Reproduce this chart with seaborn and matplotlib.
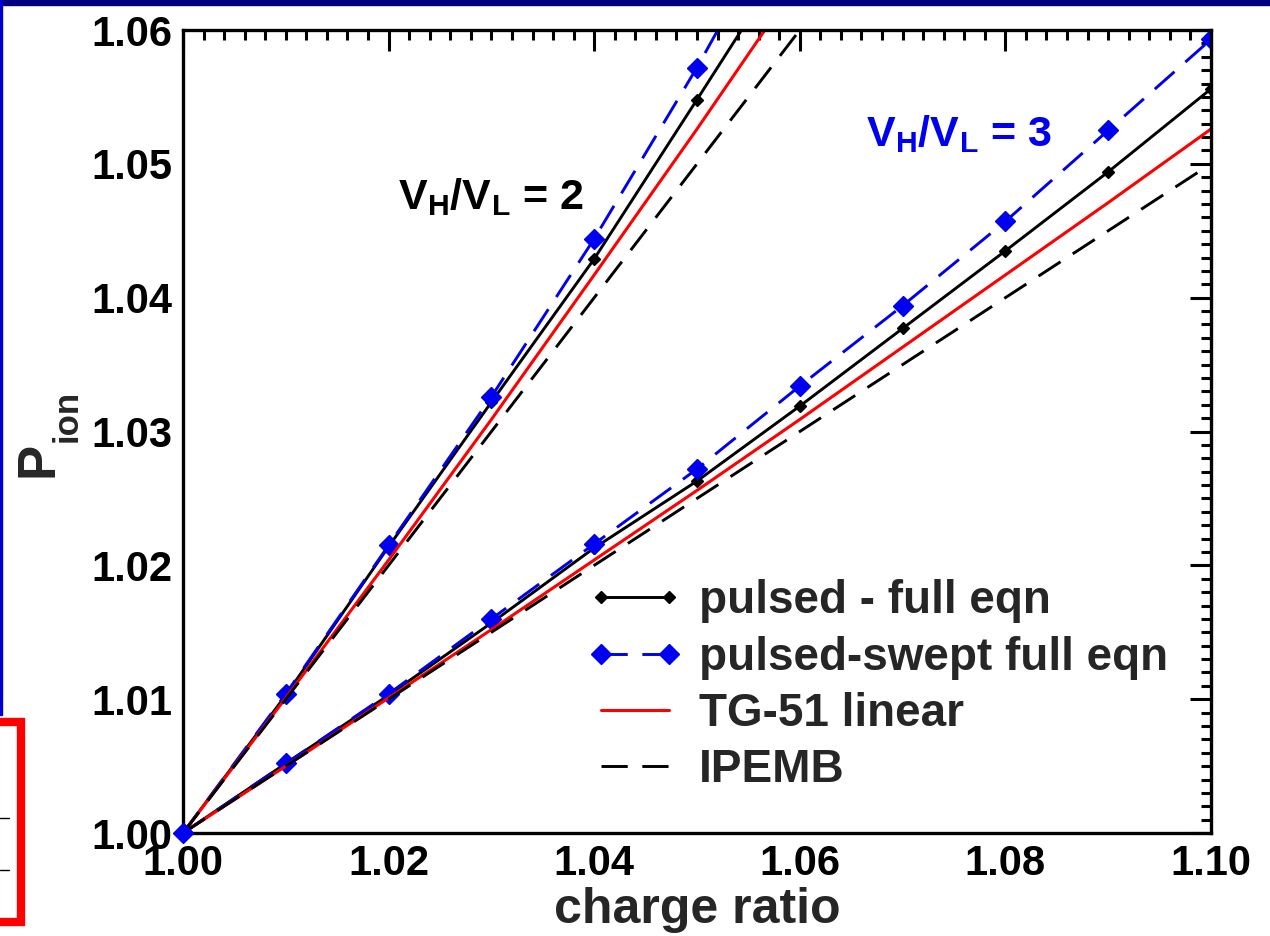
import matplotlib
matplotlib.use("Agg")
import matplotlib.pyplot as plt
from matplotlib.patches import Rectangle
from matplotlib.lines import Line2D
from matplotlib.ticker import MultipleLocator, FormatStrFormatter
import seaborn as sns

# charge ratio values
x_v2 = [1.00, 1.01, 1.02, 1.03, 1.04, 1.05, 1.06]
x_v3 = [1.00, 1.01, 1.02, 1.03, 1.04, 1.05, 1.06, 1.07, 1.08, 1.09, 1.10]

# V_H/V_L = 2
full_v2 = [1.0000, 1.0103, 1.0214, 1.0322, 1.0429, 1.0548, 1.0668]
swept_v2 = [1.0000, 1.0104, 1.0215, 1.0326, 1.0444, 1.0572, 1.0710]
tg51_v2 = [1.0000, 1.0101, 1.0204, 1.0309, 1.0417, 1.0526, 1.0638]
ipemb_v2 = [1.000, 1.010, 1.020, 1.030, 1.040, 1.050, 1.060]

# V_H/V_L = 3
full_v3 = [1.0000, 1.0052, 1.0103, 1.0157, 1.0213, 1.0263, 1.0319, 1.0377, 1.0435, 1.0494, 1.0556]
swept_v3 = [1.0000, 1.0052, 1.0104, 1.0160, 1.0216, 1.0272, 1.0334, 1.0394, 1.0457, 1.0525, 1.0593]
tg51_v3 = [1.0000, 1.0050, 1.0101, 1.0152, 1.0204, 1.0256, 1.0309, 1.0363, 1.0417, 1.0471, 1.0526]
ipemb_v3 = [1.000, 1.005, 1.010, 1.015, 1.020, 1.025, 1.030, 1.035, 1.040, 1.045, 1.050]

labels = ["pulsed - full eqn", "pulsed-swept full eqn", "TG-51 linear", "IPEMB"]

sns.set_style("white")
plt.rcParams["font.family"] = ["Liberation Sans", "DejaVu Sans"]
plt.rcParams["font.weight"] = "bold"
plt.rcParams["mathtext.fontset"] = "custom"
plt.rcParams["mathtext.rm"] = "Liberation Sans:bold"
plt.rcParams["mathtext.it"] = "Liberation Sans:bold"
plt.rcParams["mathtext.bf"] = "Liberation Sans:bold"

fig = plt.figure(figsize=(12.7, 9.36), dpi=100)
ax = fig.add_axes([0.1441, 0.1100, 0.8094, 0.8579])

blue = "#0000f0"
full_kw = dict(color="black", lw=2.1, marker="D", ms=6.5, mec="black", mew=1)
swept_kw = dict(color=blue, lw=2.1, marker="D", ms=10, mec=blue, mew=1,
                linestyle=(0, (9, 5)))
tg_kw = dict(color="red", lw=2.2)
ipemb_kw = dict(color="black", lw=2.1, linestyle=(0, (9, 5)))

for xs, ys, kw, lab in [(x_v2, full_v2, full_kw, labels[0]),
                        (x_v3, full_v3, full_kw, "_nolegend_"),
                        (x_v2, swept_v2, swept_kw, labels[1]),
                        (x_v3, swept_v3, swept_kw, "_nolegend_"),
                        (x_v2, tg51_v2, tg_kw, labels[2]),
                        (x_v3, tg51_v3, tg_kw, "_nolegend_"),
                        (x_v2, ipemb_v2, ipemb_kw, labels[3]),
                        (x_v3, ipemb_v3, ipemb_kw, "_nolegend_")]:
    sns.lineplot(x=xs, y=ys, ax=ax, label=lab, estimator=None, sort=False, **kw)

# origin marker sits over the corner
ax.plot(x_v3[:1], swept_v3[:1], marker="D", ms=10, color=blue, clip_on=False, zorder=5)

ax.set_xlim(1.00, 1.10)
ax.set_ylim(1.00, 1.06)
ax.xaxis.set_major_locator(MultipleLocator(0.02))
ax.xaxis.set_minor_locator(MultipleLocator(0.002))
ax.yaxis.set_major_locator(MultipleLocator(0.01))
ax.yaxis.set_minor_locator(MultipleLocator(0.001))
ax.xaxis.set_major_formatter(FormatStrFormatter("%.2f"))
ax.yaxis.set_major_formatter(FormatStrFormatter("%.2f"))
ax.tick_params(which="both", direction="in", top=True, right=True, width=2.2,
               colors="black", labelsize=30, pad=8)
ax.tick_params(which="major", length=15)
ax.tick_params(which="minor", length=7)
for sp in ax.spines.values():
    sp.set_linewidth(2.4)
    sp.set_color("black")

ax.set_xlabel("charge ratio", fontsize=36, fontweight="bold", labelpad=2)
ax.set_ylabel("P", fontsize=38, fontweight="bold")
ax.yaxis.set_label_coords(-0.116, 0.465)
ax.text(-0.097, 0.52, "ion", transform=ax.transAxes, rotation=90, fontsize=25,
        fontweight="bold", ha="right", va="center")

ax.text(1.0209, 1.0466, r"V$_{\mathrm{H}}$/V$_{\mathrm{L}}$ = 2", fontsize=31,
        fontweight="bold", color="black", va="baseline")
ax.text(1.0664, 1.0513, r"V$_{\mathrm{H}}$/V$_{\mathrm{L}}$ = 3", fontsize=31,
        fontweight="bold", color=blue, va="baseline")

handles, labs = ax.get_legend_handles_labels()
pick = [labs.index(l) for l in labels]
ax.legend([handles[i] for i in pick], labels, loc="upper left",
          bbox_to_anchor=(0.393, 0.316), frameon=False, fontsize=33, numpoints=2,
          handlelength=2.1, handletextpad=0.35, labelspacing=0.27,
          borderpad=0, borderaxespad=0)

# slide frame remnants
fig.patches.append(Rectangle((0, 1 - 5 / 936), 1, 5 / 936, transform=fig.transFigure,
                             color="#000080", zorder=10))
fig.patches.append(Rectangle((0, 1 - 715 / 936), 2 / 1270, 715 / 936,
                             transform=fig.transFigure, color="#0000cc", zorder=10))
fig.patches.append(Rectangle((-0.02, 1 - 922 / 936), 0.02 + 21 / 1270, 200 / 936,
                             transform=fig.transFigure, fill=False, ec="red", lw=6,
                             zorder=10))
for yy in (818, 870):
    fig.lines.append(Line2D([0, 9 / 1270], [1 - yy / 936] * 2, transform=fig.transFigure,
                            color="black", lw=1))

fig.savefig("out.png", dpi=100)
